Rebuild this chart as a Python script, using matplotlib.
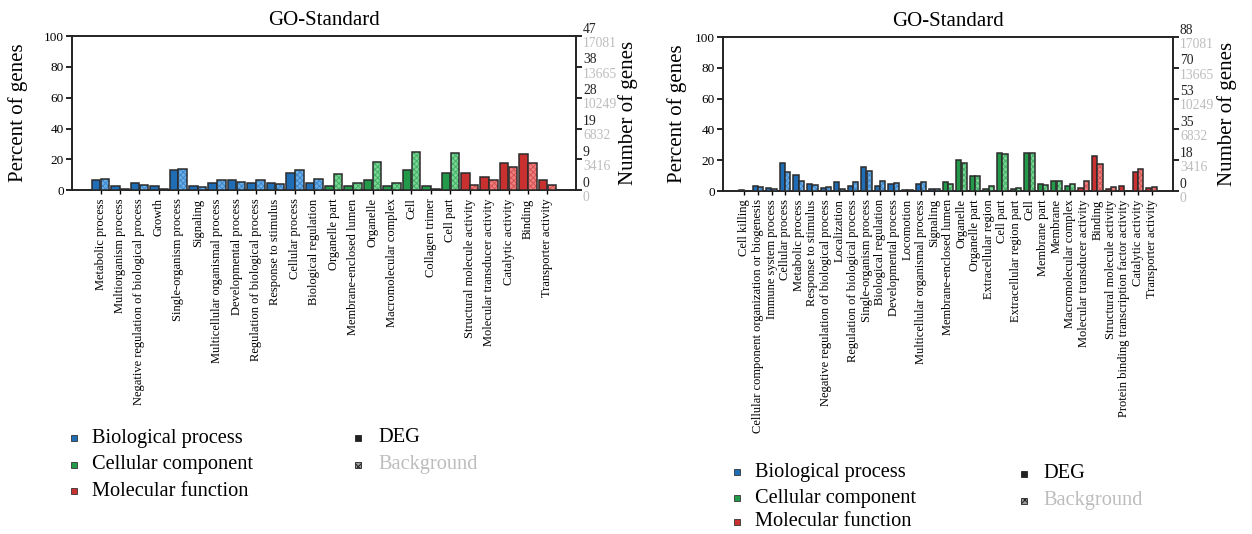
import matplotlib
matplotlib.use("Agg")
import matplotlib.pyplot as plt
import numpy as np
from matplotlib.patches import Rectangle

plt.rcParams['font.family'] = ['Liberation Serif', 'DejaVu Serif']
plt.rcParams['hatch.linewidth'] = 0.7

# ---- data: left panel ----
left_terms = ["Metabolic process", "Multiorganism process", "Negative regulation of biological process",
              "Growth", "Single-organism process", "Signaling", "Multicellular organismal process",
              "Developmental process", "Regulation of biological process", "Response to stimulus",
              "Cellular process", "Biological regulation",
              "Organelle part", "Membrane-enclosed lumen", "Organelle", "Macromolecular complex", "Cell",
              "Collagen trimer", "Cell part",
              "Structural molecule activity", "Molecular transducer activity", "Catalytic activity",
              "Binding", "Transporter activity"]
left_group_sizes = [12, 7, 5]
left_deg = [6.5, 2.4, 4.5, 2.4, 13.0, 2.4, 4.5, 6.5, 4.5, 4.5, 10.8, 4.5,
            2.4, 2.4, 6.5, 2.4, 13.0, 2.4, 10.8,
            10.8, 8.7, 17.3, 23.4, 6.3]
left_bg = [7.4, 0.6, 3.0, 0.5, 13.6, 1.7, 6.3, 5.4, 6.3, 4.1, 13.0, 6.9,
           10.4, 4.8, 18.2, 4.8, 24.9, 0.4, 24.2,
           3.0, 6.7, 14.9, 17.7, 3.5]
left_deg_ticks = ['0', '9', '19', '28', '38', '47']
left_bg_ticks = ['0', '3416', '6832', '10249', '13665', '17081']

# ---- data: right panel ----
right_terms = ["Cell killing", "Cellular component organization or biogenesis", "Immune system process",
               "Cellular process", "Metabolic process", "Response to stimulus",
               "Negative regulation of biological process", "Localization", "Regulation of biological process",
               "Single-organism process", "Biological regulation", "Developmental process", "Locomotion",
               "Multicellular organismal process", "Signaling",
               "Membrane-enclosed lumen", "Organelle", "Organelle part", "Extracellular region", "Cell part",
               "Extracellular region part", "Cell", "Membrane part", "Membrane", "Macromolecular complex",
               "Molecular transducer activity", "Binding", "Structural molecule activity",
               "Protein binding transcription factor activity", "Catalytic activity", "Transporter activity"]
right_group_sizes = [15, 10, 6]
right_deg = [0.9, 3.3, 2.2, 18.0, 10.2, 4.3, 2.2, 5.6, 3.3, 15.9, 3.3, 4.3, 0.9, 4.3, 1.1,
             5.6, 20.2, 10.0, 1.1, 25.0, 1.1, 25.0, 4.6, 6.7, 3.3,
             2.2, 22.6, 1.1, 3.3, 12.4, 2.2]
right_bg = [0.2, 2.4, 1.5, 12.6, 6.7, 3.7, 2.6, 1.5, 5.9, 13.3, 6.7, 5.0, 0.4, 5.9, 1.3,
            4.6, 18.0, 10.0, 3.5, 24.3, 2.0, 24.6, 3.7, 6.3, 4.6,
            6.5, 17.6, 2.6, 0.2, 14.6, 2.8]
right_deg_ticks = ['0', '18', '35', '53', '70', '88']
right_bg_ticks = ['0', '3416', '6832', '10249', '13665', '17081']

group_names = ["Biological process", "Cellular component", "Molecular function"]
solid_colors = ['#1f6db5', '#23994a', '#c93131']
light_colors = ['#6aaee6', '#7bd597', '#ee8080']
hatch_colors = ['#3f86cc', '#43b065', '#d75252']
edge = '#2b2b2b'
grey_txt = '#bdbdbd'


def draw_panel(ax, terms, sizes, deg, bg, deg_ticks, bg_ticks, bar_w, off, pad, ylab_px, rlab_px):
    n = len(terms)
    x = np.arange(n)
    gidx = np.repeat(np.arange(3), sizes)
    for g in range(3):
        m = gidx == g
        ax.bar(x[m] - off, np.array(deg)[m], width=bar_w, color=solid_colors[g],
               edgecolor=edge, linewidth=1.1, zorder=3)
        plt.rcParams['hatch.color'] = hatch_colors[g]
        ax.bar(x[m] + off, np.array(bg)[m], width=bar_w, color=light_colors[g],
               hatch='xxxxxx', linewidth=0, zorder=3)
        ax.bar(x[m] + off, np.array(bg)[m], width=bar_w, color='none',
               edgecolor=edge, linewidth=1.1, zorder=4)
    ax.set_xlim(-pad, n - 1 + pad)
    ax.set_ylim(0, 100)
    ax.set_yticks([0, 20, 40, 60, 80, 100])
    ax.set_xticks(x)
    ax.set_xticklabels(terms, rotation=90, fontsize=9)
    ax.tick_params(axis='x', length=3, width=1, pad=3)
    ax.tick_params(axis='y', labelsize=9.5, length=4, width=1.2, right=True, pad=2)
    for s in ax.spines.values():
        s.set_linewidth(1.4)
        s.set_color('#222222')
    ax.set_title('GO-Standard', fontsize=15, pad=8)
    w_px = ax.get_position().width * ax.figure.get_size_inches()[0] * ax.figure.dpi
    # y labels placed by their centre, in pixels from the axes edges
    ax.text(-ylab_px / w_px, 0.5, 'Percent of genes', transform=ax.transAxes, rotation=90,
            ha='center', va='center', fontsize=15)
    tr = ax.get_yaxis_transform()
    for v, a, b in zip([0, 20, 40, 60, 80, 100], deg_ticks, bg_ticks):
        ax.annotate(a, (1, v), xycoords=tr, xytext=(5, 5), textcoords='offset points',
                    ha='left', va='center', fontsize=9.8, color='#222222', annotation_clip=False)
        ax.annotate(b, (1, v), xycoords=tr, xytext=(5, -5.2), textcoords='offset points',
                    ha='left', va='center', fontsize=9.8, color=grey_txt, annotation_clip=False)
    ax.text(1 + rlab_px / w_px, 0.5, 'Number of genes', transform=ax.transAxes, rotation=90,
            ha='center', va='center', fontsize=15)


def draw_legend(fig, x_sq, x_txt, ys, x_sq2, x_txt2, ys2):
    W, H = fig.get_size_inches() * fig.dpi
    sq = 5.5
    for g in range(3):
        fig.add_artist(Rectangle(((x_sq - sq / 2) / W, 1 - (ys[g] + sq / 2) / H), sq / W, sq / H,
                                 facecolor=solid_colors[g], edgecolor='#333333', linewidth=0.6,
                                 transform=fig.transFigure))
        fig.text(x_txt / W, 1 - ys[g] / H, group_names[g], fontsize=14.7, va='center', ha='left')
    fig.add_artist(Rectangle(((x_sq2 - sq / 2) / W, 1 - (ys2[0] + sq / 2) / H), sq / W, sq / H,
                             facecolor='#222222', edgecolor='#222222', linewidth=0.6,
                             transform=fig.transFigure))
    fig.text(x_txt2 / W, 1 - ys2[0] / H, 'DEG', fontsize=14.7, va='center', ha='left')
    plt.rcParams['hatch.color'] = '#222222'
    fig.add_artist(Rectangle(((x_sq2 - sq / 2) / W, 1 - (ys2[1] + sq / 2) / H), sq / W, sq / H,
                             facecolor='#9a9a9a', hatch='xxxx', edgecolor='#222222', linewidth=0.6,
                             transform=fig.transFigure))
    fig.text(x_txt2 / W, 1 - ys2[1] / H, 'Background', fontsize=14.7, va='center', ha='left',
             color=grey_txt)


fig = plt.figure(figsize=(12.52, 5.34), dpi=100)
ax1 = fig.add_axes([0.0575, 0.644, 0.4026, 0.2884])
ax2 = fig.add_axes([0.5775, 0.6423, 0.3594, 0.2884])

draw_panel(ax1, left_terms, left_group_sizes, left_deg, left_bg,
           left_deg_ticks, left_bg_ticks, bar_w=0.44, off=0.23, pad=1.47, ylab_px=54, rlab_px=52)
draw_panel(ax2, right_terms, right_group_sizes, right_deg, right_bg,
           right_deg_ticks, right_bg_ticks, bar_w=0.38, off=0.2, pad=1.58, ylab_px=46, rlab_px=54)

draw_legend(fig, 74, 92, [438, 465, 491], 358, 378, [438, 465])
draw_legend(fig, 737, 755, [472, 498, 522], 1024, 1043, [474, 501])

fig.savefig('out.png', dpi=100)
